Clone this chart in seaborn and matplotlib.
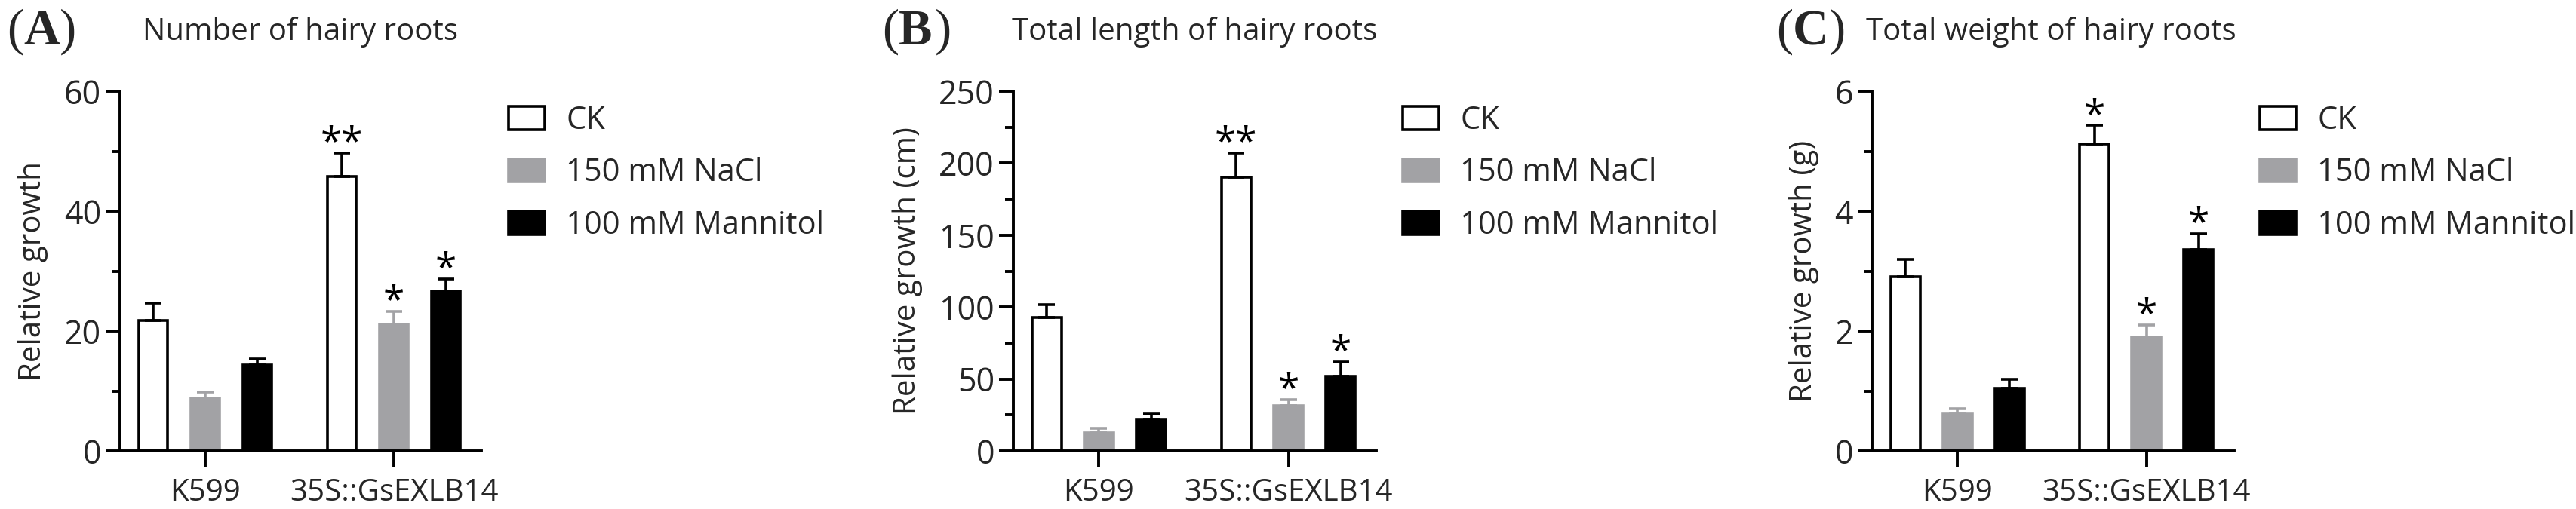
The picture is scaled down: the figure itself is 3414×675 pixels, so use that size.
import numpy as np
import pandas as pd
import matplotlib
matplotlib.use('Agg')
import matplotlib.pyplot as plt
from matplotlib.patches import Patch
from matplotlib.ticker import MultipleLocator
import seaborn as sns

# ---------------- data ----------------
genotypes = ['K599', '35S::GsEXLB14']
treatments = ['CK', '150 mM NaCl', '100 mM Mannitol']

# (A) number of hairy roots
number_ck = [21.8, 45.8]
number_nacl = [8.8, 21.1]
number_mannitol = [14.4, 26.7]
number_ck_err = [2.9, 3.9]
number_nacl_err = [1.0, 2.2]
number_mannitol_err = [1.0, 2.0]
number_sig = [['', '', ''], ['**', '*', '*']]

# (B) total length of hairy roots (cm)
length_ck = [92.9, 190.5]
length_nacl = [12.4, 31.2]
length_mannitol = [22.2, 52.0]
length_ck_err = [9.0, 16.5]
length_nacl_err = [3.4, 4.5]
length_mannitol_err = [3.3, 9.7]
length_sig = [['', '', ''], ['**', '*', '*']]

# (C) total weight of hairy roots (g)
weight_ck = [2.91, 5.12]
weight_nacl = [0.62, 1.90]
weight_mannitol = [1.05, 3.36]
weight_ck_err = [0.29, 0.31]
weight_nacl_err = [0.09, 0.20]
weight_mannitol_err = [0.15, 0.26]
weight_sig = [['', '', ''], ['*', '*', '*']]

panel_letters = ['A', 'B', 'C']
panel_titles = ['Number of hairy roots', 'Total length of hairy roots',
                'Total weight of hairy roots']
y_labels = ['Relative growth', 'Relative growth (cm)', 'Relative growth (g)']
y_max = [60, 250, 6]
y_major = [20, 50, 2]
y_minor = [10, 25, 1]

panels = [
    (number_ck, number_nacl, number_mannitol,
     number_ck_err, number_nacl_err, number_mannitol_err, number_sig),
    (length_ck, length_nacl, length_mannitol,
     length_ck_err, length_nacl_err, length_mannitol_err, length_sig),
    (weight_ck, weight_nacl, weight_mannitol,
     weight_ck_err, weight_nacl_err, weight_mannitol_err, weight_sig),
]

# ---------------- style ----------------
sns.set_style('white')
plt.rcParams['font.family'] = ['Open Sans', 'DejaVu Sans']

GRAY = '#a2a2a5'
fill_colors = ['white', GRAY, 'black']
edge_colors = ['black', GRAY, 'black']
err_colors = ['black', GRAY, 'black']

W, H = 3414, 675
fig = plt.figure(figsize=(W / 100, H / 100), dpi=100)

axes_px = [(159, 638), (1343, 1824), (2481, 2961)]
top_px, bot_px = 121, 598
letter_x = [9, 1169, 2354]
title_x = [189, 1341, 2473]
legend_x = [674, 1859, 2995]

FS = 29
LW = 2.8
LF = 48  # panel letter size

for i in range(3):
    l, r = axes_px[i]
    ax = fig.add_axes([l / W, 1 - bot_px / H, (r - l) / W, (bot_px - top_px) / H])
    ck, nacl, man, ck_e, nacl_e, man_e, sig = panels[i]
    means = [ck, nacl, man]
    errs = [ck_e, nacl_e, man_e]

    df = pd.DataFrame({
        'genotype': [g for t in treatments for g in genotypes],
        'treatment': [t for t in treatments for g in genotypes],
        'value': [v for m in means for v in m],
    })
    sns.barplot(data=df, x='genotype', y='value', hue='treatment',
                order=genotypes, hue_order=treatments,
                palette=fill_colors, saturation=1, width=0.828, gap=0.435,
                errorbar=None, legend=False, linewidth=2.6, ax=ax)

    bar_conts = list(ax.containers)
    for j, cont in enumerate(bar_conts):
        xs, ys = [], []
        for b in cont:
            b.set_edgecolor(edge_colors[j])
            b.set_linewidth(2.6)
            xs.append(b.get_x() + b.get_width() / 2)
            ys.append(b.get_height())
        ax.errorbar(xs, ys, yerr=[np.zeros(len(ys)), errs[j]], fmt='none',
                    ecolor=err_colors[j], elinewidth=2.6, capsize=7.9,
                    capthick=2.6, zorder=3)
        for k in range(len(xs)):
            s = sig[k][j]
            if s:
                ax.annotate(s, xy=(xs[k], ys[k] + errs[j][k]), xytext=(0, -1),
                            textcoords='offset points', ha='center',
                            va='baseline', fontsize=37, color='black')

    ax.set_xlim(-0.452, 1.464)
    ax.set_ylim(0, y_max[i])
    ax.yaxis.set_major_locator(MultipleLocator(y_major[i]))
    ax.yaxis.set_minor_locator(MultipleLocator(y_minor[i]))
    sns.despine(ax=ax)
    for sp in ['left', 'bottom']:
        ax.spines[sp].set_linewidth(LW)
        ax.spines[sp].set_color('black')
    ax.tick_params(axis='y', which='major', direction='out', length=13.7,
                   width=LW, pad=4.3, labelsize=31, color='black', left=True)
    ax.tick_params(axis='y', which='minor', direction='out', length=8,
                   width=LW, color='black', left=True)
    ax.tick_params(axis='x', which='major', direction='out', length=15,
                   width=LW, pad=10.5, labelsize=FS, color='black', bottom=True)
    ax.set_xlabel('')
    ax.set_ylabel(y_labels[i], fontsize=FS, labelpad=15)

    # panel letter "(X)" and title
    yb = 1 - 59 / H
    fig.text(letter_x[i] / W, yb, '(', family='Liberation Serif', fontsize=LF,
             va='baseline', ha='left')
    fig.text((letter_x[i] + 22) / W, yb, panel_letters[i],
             family='Liberation Serif', fontweight='bold', fontsize=LF,
             va='baseline', ha='left')
    fig.text((letter_x[i] + 70) / W, yb, ')', family='Liberation Serif',
             fontsize=LF, va='baseline', ha='left')
    fig.text(title_x[i] / W, 1 - 53 / H, panel_titles[i], fontsize=29,
             va='baseline', ha='left')

    handles = [Patch(facecolor=fill_colors[j], edgecolor=edge_colors[j],
                     linewidth=2.6) for j in range(3)]
    ax.legend(handles, treatments, loc='upper left',
              bbox_to_anchor=(legend_x[i] / W, 1 - 139 / H),
              bbox_transform=fig.transFigure, frameon=False, fontsize=30,
              handlelength=1.15, handleheight=0.75, handletextpad=0.68,
              labelspacing=0.66, borderpad=0, borderaxespad=0)

fig.savefig('out.png', dpi=100, facecolor='white')
